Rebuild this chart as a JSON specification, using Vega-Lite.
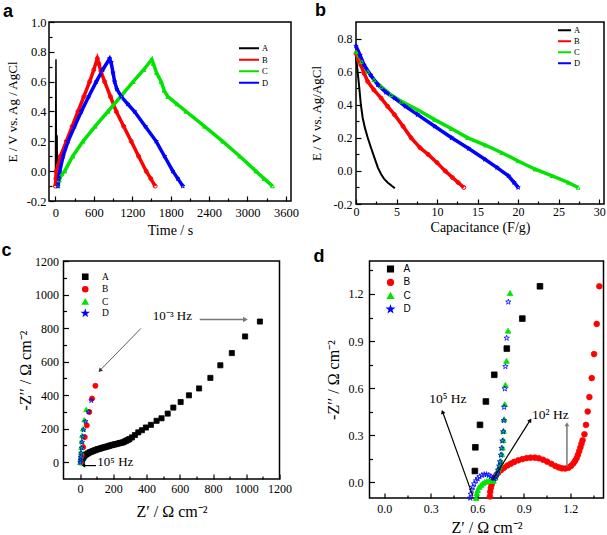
{
  "$schema": "https://vega.github.io/schema/vega-lite/v6.json",
  "padding": {"top": 0, "left": 0, "right": 0, "bottom": 0},
  "background": "white",
  "config": {
    "font": "Liberation Serif",
    "view": {"stroke": "black", "strokeWidth": 1.5},
    "axis": {"domain": false, "grid": false, "labelFont": "Liberation Serif", "labelFontSize": 12, "labelColor": "black", "titleFont": "Liberation Serif", "titleFontWeight": "normal", "titleColor": "black", "titleFontSize": 14, "tickColor": "black", "tickWidth": 1.2, "labelOverlap": false, "labelFlush": false, "labelBound": false},
    "legend": {"title": null, "labelColor": "black"}
  },
  "datasets": {
    "pa": [
      {"s":"A","x":0,"y":-0.1},{"s":"A","x":4,"y":0.3},{"s":"A","x":9,"y":0.75},{"s":"A","x":13,"y":0.3},{"s":"A","x":18,"y":0.05},{"s":"A","x":26,"y":0.24},{"s":"A","x":32,"y":-0.1},
      {"s":"B","x":0,"y":-0.1},{"s":"B","x":8,"y":-0.05},{"s":"B","x":15,"y":0.0},{"s":"B","x":78,"y":0.1},{"s":"B","x":171,"y":0.2},{"s":"B","x":262,"y":0.3},{"s":"B","x":353,"y":0.4},{"s":"B","x":444,"y":0.5},{"s":"B","x":535,"y":0.6},{"s":"B","x":600,"y":0.68},{"s":"B","x":655,"y":0.755},{"s":"B","x":680,"y":0.72},{"s":"B","x":710,"y":0.67},{"s":"B","x":769,"y":0.6},{"s":"B","x":860,"y":0.5},{"s":"B","x":951,"y":0.4},{"s":"B","x":1068,"y":0.3},{"s":"B","x":1184,"y":0.2},{"s":"B","x":1300,"y":0.1},{"s":"B","x":1418,"y":0.0},{"s":"B","x":1490,"y":-0.05},{"s":"B","x":1558,"y":-0.1},
      {"s":"C","x":40,"y":-0.1},{"s":"C","x":60,"y":-0.06},{"s":"C","x":100,"y":-0.02},{"s":"C","x":145,"y":0.0},{"s":"C","x":270,"y":0.1},{"s":"C","x":431,"y":0.2},{"s":"C","x":620,"y":0.3},{"s":"C","x":821,"y":0.4},{"s":"C","x":1018,"y":0.5},{"s":"C","x":1215,"y":0.6},{"s":"C","x":1380,"y":0.68},{"s":"C","x":1506,"y":0.75},{"s":"C","x":1530,"y":0.72},{"s":"C","x":1580,"y":0.66},{"s":"C","x":1652,"y":0.6},{"s":"C","x":1700,"y":0.54},{"s":"C","x":1756,"y":0.5},{"s":"C","x":1900,"y":0.45},{"s":"C","x":2042,"y":0.4},{"s":"C","x":2330,"y":0.3},{"s":"C","x":2613,"y":0.2},{"s":"C","x":2880,"y":0.1},{"s":"C","x":3133,"y":0.0},{"s":"C","x":3260,"y":-0.05},{"s":"C","x":3392,"y":-0.1},
      {"s":"D","x":40,"y":-0.1},{"s":"D","x":52,"y":-0.05},{"s":"D","x":68,"y":0.0},{"s":"D","x":120,"y":0.1},{"s":"D","x":197,"y":0.2},{"s":"D","x":300,"y":0.3},{"s":"D","x":405,"y":0.4},{"s":"D","x":520,"y":0.5},{"s":"D","x":639,"y":0.6},{"s":"D","x":740,"y":0.68},{"s":"D","x":847,"y":0.755},{"s":"D","x":870,"y":0.73},{"s":"D","x":900,"y":0.66},{"s":"D","x":925,"y":0.6},{"s":"D","x":960,"y":0.55},{"s":"D","x":1029,"y":0.5},{"s":"D","x":1130,"y":0.45},{"s":"D","x":1236,"y":0.4},{"s":"D","x":1405,"y":0.3},{"s":"D","x":1574,"y":0.2},{"s":"D","x":1704,"y":0.1},{"s":"D","x":1834,"y":0.0},{"s":"D","x":1912,"y":-0.05},{"s":"D","x":1990,"y":-0.1}
    ],
    "pb": [
      {"s":"A","x":0,"y":0.69},{"s":"A","x":0.2,"y":0.6},{"s":"A","x":0.41,"y":0.5},{"s":"A","x":0.6,"y":0.4},{"s":"A","x":0.83,"y":0.32},{"s":"A","x":1.1,"y":0.26},{"s":"A","x":1.45,"y":0.2},{"s":"A","x":1.85,"y":0.14},{"s":"A","x":2.27,"y":0.08},{"s":"A","x":2.7,"y":0.02},{"s":"A","x":3.1,"y":-0.02},{"s":"A","x":3.5,"y":-0.05},{"s":"A","x":3.9,"y":-0.07},{"s":"A","x":4.4,"y":-0.09},{"s":"A","x":4.8,"y":-0.105},
      {"s":"B","x":0,"y":0.71},{"s":"B","x":0.3,"y":0.67},{"s":"B","x":0.6,"y":0.64},{"s":"B","x":1.0,"y":0.59},{"s":"B","x":1.45,"y":0.54},{"s":"B","x":2.2,"y":0.49},{"s":"B","x":3.1,"y":0.44},{"s":"B","x":3.9,"y":0.39},{"s":"B","x":4.75,"y":0.34},{"s":"B","x":5.8,"y":0.27},{"s":"B","x":6.8,"y":0.2},{"s":"B","x":7.9,"y":0.14},{"s":"B","x":8.9,"y":0.1},{"s":"B","x":10,"y":0.05},{"s":"B","x":11,"y":0.0},{"s":"B","x":11.9,"y":-0.04},{"s":"B","x":12.6,"y":-0.07},{"s":"B","x":13.3,"y":-0.1},
      {"s":"C","x":0,"y":0.72},{"s":"C","x":0.7,"y":0.66},{"s":"C","x":1.45,"y":0.6},{"s":"C","x":2.2,"y":0.55},{"s":"C","x":3.1,"y":0.51},{"s":"C","x":4.3,"y":0.46},{"s":"C","x":5.6,"y":0.42},{"s":"C","x":7.6,"y":0.37},{"s":"C","x":9.7,"y":0.31},{"s":"C","x":11.8,"y":0.255},{"s":"C","x":13.8,"y":0.2},{"s":"C","x":16,"y":0.155},{"s":"C","x":18,"y":0.11},{"s":"C","x":20,"y":0.06},{"s":"C","x":22.1,"y":0.01},{"s":"C","x":24.2,"y":-0.03},{"s":"C","x":26.2,"y":-0.07},{"s":"C","x":27.4,"y":-0.1},
      {"s":"D","x":0,"y":0.755},{"s":"D","x":0.5,"y":0.7},{"s":"D","x":1.0,"y":0.64},{"s":"D","x":1.8,"y":0.58},{"s":"D","x":2.7,"y":0.52},{"s":"D","x":3.7,"y":0.475},{"s":"D","x":4.75,"y":0.44},{"s":"D","x":6.1,"y":0.39},{"s":"D","x":7.6,"y":0.34},{"s":"D","x":9.7,"y":0.27},{"s":"D","x":11.8,"y":0.2},{"s":"D","x":13.9,"y":0.135},{"s":"D","x":15.9,"y":0.07},{"s":"D","x":17.4,"y":0.02},{"s":"D","x":18.8,"y":-0.03},{"s":"D","x":19.5,"y":-0.07},{"s":"D","x":20.0,"y":-0.1}
    ],
    "pc": [
      {"s":"A","x":8,"y":0},{"s":"A","x":9,"y":6},{"s":"A","x":12,"y":16},{"s":"A","x":17,"y":25},{"s":"A","x":22,"y":33},{"s":"A","x":30,"y":41},{"s":"A","x":38,"y":47},{"s":"A","x":48,"y":53},{"s":"A","x":58,"y":59},{"s":"A","x":68,"y":63},{"s":"A","x":78,"y":67},{"s":"A","x":88,"y":71},{"s":"A","x":98,"y":75},{"s":"A","x":108,"y":78},{"s":"A","x":118,"y":81},{"s":"A","x":128,"y":84},{"s":"A","x":138,"y":87},{"s":"A","x":148,"y":90},{"s":"A","x":157,"y":92},{"s":"A","x":167,"y":95},{"s":"A","x":177,"y":98},{"s":"A","x":187,"y":101},{"s":"A","x":197,"y":104},{"s":"A","x":207,"y":106},{"s":"A","x":217,"y":108},{"s":"A","x":227,"y":111},{"s":"A","x":237,"y":114},{"s":"A","x":247,"y":116},{"s":"A","x":257,"y":118},{"s":"A","x":267,"y":123},{"s":"A","x":277,"y":128},{"s":"A","x":287,"y":133},{"s":"A","x":297,"y":138},{"s":"A","x":312,"y":148},{"s":"A","x":330,"y":162},{"s":"A","x":350,"y":178},{"s":"A","x":372,"y":191},{"s":"A","x":396,"y":207},{"s":"A","x":426,"y":223},{"s":"A","x":460,"y":247},{"s":"A","x":490,"y":262},{"s":"A","x":527,"y":290},{"s":"A","x":561,"y":326},{"s":"A","x":605,"y":359},{"s":"A","x":655,"y":399},{"s":"A","x":716,"y":440},{"s":"A","x":784,"y":503},{"s":"A","x":844,"y":578},{"s":"A","x":913,"y":651},{"s":"A","x":993,"y":750},{"s":"A","x":1082,"y":839},
      {"s":"B","x":5,"y":0},{"s":"B","x":10,"y":40},{"s":"B","x":18,"y":90},{"s":"B","x":28,"y":150},{"s":"B","x":40,"y":220},{"s":"B","x":55,"y":300},{"s":"B","x":72,"y":380},{"s":"B","x":92,"y":456},
      {"s":"C","x":0,"y":0},{"s":"C","x":2,"y":15},{"s":"C","x":3,"y":35},{"s":"C","x":5,"y":60},{"s":"C","x":7,"y":90},{"s":"C","x":9,"y":125},{"s":"C","x":12,"y":160},{"s":"C","x":17,"y":200},{"s":"C","x":25,"y":253},{"s":"C","x":37,"y":315},
      {"s":"D","x":1,"y":0},{"s":"D","x":3,"y":12},{"s":"D","x":4,"y":30},{"s":"D","x":6,"y":55},{"s":"D","x":9,"y":85},{"s":"D","x":12,"y":120},{"s":"D","x":16,"y":152},{"s":"D","x":21,"y":193},{"s":"D","x":33,"y":243},{"s":"D","x":50,"y":300},{"s":"D","x":67,"y":368}
    ],
    "pd": [
      {"s":"A","x":0.585,"y":0.072},{"s":"A","x":0.588,"y":0.223},{"s":"A","x":0.618,"y":0.366},{"s":"A","x":0.656,"y":0.515},{"s":"A","x":0.71,"y":0.685},{"s":"A","x":0.791,"y":0.852},{"s":"A","x":0.891,"y":1.043},{"s":"A","x":1.005,"y":1.249},
      {"s":"B","x":0.682,"y":-0.09},{"s":"B","x":0.684,"y":-0.06},{"s":"B","x":0.688,"y":-0.035},{"s":"B","x":0.693,"y":-0.015},{"s":"B","x":0.7,"y":0.004},{"s":"B","x":0.708,"y":0.022},{"s":"B","x":0.72,"y":0.042},{"s":"B","x":0.735,"y":0.06},{"s":"B","x":0.753,"y":0.077},{"s":"B","x":0.773,"y":0.093},{"s":"B","x":0.795,"y":0.107},{"s":"B","x":0.817,"y":0.119},{"s":"B","x":0.839,"y":0.13},{"s":"B","x":0.865,"y":0.14},{"s":"B","x":0.892,"y":0.148},{"s":"B","x":0.918,"y":0.154},{"s":"B","x":0.945,"y":0.157},{"s":"B","x":0.972,"y":0.157},{"s":"B","x":0.998,"y":0.153},{"s":"B","x":1.025,"y":0.144},{"s":"B","x":1.051,"y":0.132},{"s":"B","x":1.078,"y":0.118},{"s":"B","x":1.104,"y":0.104},{"s":"B","x":1.126,"y":0.095},{"s":"B","x":1.147,"y":0.089},{"s":"B","x":1.168,"y":0.088},{"s":"B","x":1.189,"y":0.093},{"s":"B","x":1.206,"y":0.105},{"s":"B","x":1.221,"y":0.121},{"s":"B","x":1.232,"y":0.137},{"s":"B","x":1.242,"y":0.155},{"s":"B","x":1.25,"y":0.175},{"s":"B","x":1.258,"y":0.198},{"s":"B","x":1.266,"y":0.222},{"s":"B","x":1.273,"y":0.245},{"s":"B","x":1.28,"y":0.268},{"s":"B","x":1.292,"y":0.306},{"s":"B","x":1.302,"y":0.366},{"s":"B","x":1.313,"y":0.451},{"s":"B","x":1.324,"y":0.543},{"s":"B","x":1.339,"y":0.664},{"s":"B","x":1.354,"y":0.817},{"s":"B","x":1.371,"y":1.009},{"s":"B","x":1.388,"y":1.249},
      {"s":"C","x":0.593,"y":-0.1},{"s":"C","x":0.597,"y":-0.07},{"s":"C","x":0.603,"y":-0.049},{"s":"C","x":0.612,"y":-0.03},{"s":"C","x":0.625,"y":-0.017},{"s":"C","x":0.636,"y":-0.006},{"s":"C","x":0.648,"y":0.002},{"s":"C","x":0.662,"y":0.008},{"s":"C","x":0.678,"y":0.01},{"s":"C","x":0.692,"y":0.008},{"s":"C","x":0.705,"y":0.01},{"s":"C","x":0.716,"y":0.03},{"s":"C","x":0.726,"y":0.058},{"s":"C","x":0.735,"y":0.08},{"s":"C","x":0.742,"y":0.1},{"s":"C","x":0.748,"y":0.118},{"s":"C","x":0.753,"y":0.136},{"s":"C","x":0.759,"y":0.179},{"s":"C","x":0.763,"y":0.221},{"s":"C","x":0.768,"y":0.27},{"s":"C","x":0.77,"y":0.328},{"s":"C","x":0.774,"y":0.402},{"s":"C","x":0.778,"y":0.498},{"s":"C","x":0.782,"y":0.621},{"s":"C","x":0.789,"y":0.774},{"s":"C","x":0.799,"y":0.966},{"s":"C","x":0.812,"y":1.206},
      {"s":"D","x":0.555,"y":-0.1},{"s":"D","x":0.558,"y":-0.075},{"s":"D","x":0.564,"y":-0.05},{"s":"D","x":0.571,"y":-0.03},{"s":"D","x":0.58,"y":-0.01},{"s":"D","x":0.592,"y":0.01},{"s":"D","x":0.603,"y":0.024},{"s":"D","x":0.615,"y":0.036},{"s":"D","x":0.63,"y":0.045},{"s":"D","x":0.645,"y":0.05},{"s":"D","x":0.66,"y":0.05},{"s":"D","x":0.675,"y":0.045},{"s":"D","x":0.688,"y":0.037},{"s":"D","x":0.7,"y":0.028},{"s":"D","x":0.71,"y":0.024},{"s":"D","x":0.72,"y":0.035},{"s":"D","x":0.728,"y":0.055},{"s":"D","x":0.735,"y":0.078},{"s":"D","x":0.742,"y":0.104},{"s":"D","x":0.747,"y":0.132},{"s":"D","x":0.753,"y":0.174},{"s":"D","x":0.757,"y":0.217},{"s":"D","x":0.763,"y":0.264},{"s":"D","x":0.768,"y":0.323},{"s":"D","x":0.772,"y":0.394},{"s":"D","x":0.774,"y":0.479},{"s":"D","x":0.778,"y":0.596},{"s":"D","x":0.782,"y":0.738},{"s":"D","x":0.79,"y":0.919},{"s":"D","x":0.801,"y":1.149}
    ]
  },
  "spacing": 1,
  "center": true,
  "resolve": {"scale": {"color": "independent", "shape": "independent", "fill": "independent", "stroke": "independent"}},
  "vconcat": [
    {
      "spacing": 9,
      "resolve": {"scale": {"color": "independent", "shape": "independent", "fill": "independent", "stroke": "independent"}},
      "hconcat": [
        {
          "width": 242, "height": 179,
          "title": {"text": "a", "anchor": "start", "frame": "group", "dx": -46, "offset": -18.75, "baseline": "alphabetic", "font": "Liberation Sans", "fontSize": 18, "fontWeight": "bold", "color": "black"},
          "data": {"name": "pa"},
          "encoding": {
            "x": {"field": "x", "type": "quantitative", "title": "Time / s", "scale": {"domain": [-100, 3680], "nice": false, "zero": false},
              "axis": {"values": [0,300,600,900,1200,1500,1800,2100,2400,2700,3000,3300,3600], "format": "d", "labelExpr": "datum.value % 600 === 0 ? datum.label : ''", "tickSize": {"condition": {"test": "datum.value % 600 !== 0", "value": -3}, "value": -5}, "labelPadding": 10, "labelFontSize": 12.5, "titlePadding": 3}},
            "y": {"field": "y", "type": "quantitative", "title": "E / V vs. Ag / AgCl", "scale": {"domain": [-0.2, 1.0], "nice": false, "zero": false},
              "axis": {"values": [-0.2,-0.1,0,0.1,0.2,0.3,0.4,0.5,0.6,0.7,0.8,0.9,1.0], "format": ".1f", "labelExpr": "abs(round(datum.value*10)) % 2 === 0 ? replace(datum.label, '−', '-') : ''", "tickSize": {"condition": {"test": "abs(round(datum.value*10)) % 2 === 1", "value": -3}, "value": -5}, "labelPadding": 8, "labelFontSize": 12.5, "titlePadding": 7, "titleFontSize": 13}}
          },
          "layer": [
            {"transform": [{"filter": "datum.s === 'A'"}], "mark": {"type": "line", "strokeWidth": 1.5},
             "encoding": {"color": {"field": "s", "type": "nominal", "scale": {"domain": ["A","B","C","D"], "range": ["#000000","#ff0000","#00e400","#0000ff"]},
               "legend": {"orient": "none", "legendX": 189, "legendY": 22, "symbolType": "stroke", "symbolSize": 400, "symbolStrokeWidth": 2, "clipHeight": 8.5, "labelFont": "Liberation Serif", "labelFontSize": 8.5, "rowPadding": 2.5, "labelOffset": 2}}}},
            {"transform": [{"filter": "datum.s !== 'A'"}], "mark": {"type": "line", "strokeWidth": 3.5},
             "encoding": {"color": {"field": "s", "type": "nominal", "scale": {"domain": ["A","B","C","D"], "range": ["#000000","#ff0000","#00e400","#0000ff"]}}}},
            {"transform": [{"filter": "datum.s === 'B'"}], "mark": {"type": "point", "shape": "circle", "filled": false, "size": 16, "strokeWidth": 1, "opacity": 1},
             "encoding": {"color": {"field": "s", "type": "nominal", "scale": {"domain": ["A","B","C","D"], "range": ["#000000","#ff0000","#00e400","#0000ff"]}}}},
            {"transform": [{"filter": "datum.s === 'C'"}], "mark": {"type": "point", "shape": "triangle-up", "filled": false, "size": 16, "strokeWidth": 1, "opacity": 1},
             "encoding": {"color": {"field": "s", "type": "nominal", "scale": {"domain": ["A","B","C","D"], "range": ["#000000","#ff0000","#00e400","#0000ff"]}}}},
            {"transform": [{"filter": "datum.s === 'D'"}], "mark": {"type": "point", "shape": "M0,-1L0.225,-0.309L0.951,-0.309L0.363,0.118L0.588,0.809L0,0.382L-0.588,0.809L-0.363,0.118L-0.951,-0.309L-0.225,-0.309Z", "filled": false, "size": 20, "strokeWidth": 1, "opacity": 1},
             "encoding": {"color": {"field": "s", "type": "nominal", "scale": {"domain": ["A","B","C","D"], "range": ["#000000","#ff0000","#00e400","#0000ff"]}}}}
          ]
        },
        {
          "width": 248, "height": 182,
          "title": {"text": "b", "anchor": "start", "frame": "group", "dx": -41, "offset": -11.5, "baseline": "alphabetic", "font": "Liberation Sans", "fontSize": 18, "fontWeight": "bold", "color": "black"},
          "data": {"name": "pb"},
          "encoding": {
            "x": {"field": "x", "type": "quantitative", "title": "Capacitance (F/g)", "scale": {"domain": [0, 30.6], "nice": false, "zero": false},
              "axis": {"values": [0,2.5,5,7.5,10,12.5,15,17.5,20,22.5,25,27.5,30], "format": "d", "labelExpr": "datum.value % 5 === 0 ? datum.label : ''", "tickSize": {"condition": {"test": "datum.value % 5 !== 0", "value": -3}, "value": -5}, "labelPadding": 7, "titlePadding": 1}},
            "y": {"field": "y", "type": "quantitative", "title": "E / V vs. Ag/AgCl", "scale": {"domain": [-0.2, 0.9], "nice": false, "zero": false},
              "axis": {"values": [-0.2,-0.1,0,0.1,0.2,0.3,0.4,0.5,0.6,0.7,0.8], "format": ".1f", "labelExpr": "abs(round(datum.value*10)) % 2 === 0 ? replace(datum.label, '−', '-') : ''", "tickSize": {"condition": {"test": "abs(round(datum.value*10)) % 2 === 1", "value": -3}, "value": -5}, "labelPadding": 9, "titlePadding": 10, "titleFontSize": 13}}
          },
          "layer": [
            {"transform": [{"filter": "datum.s === 'A'"}], "mark": {"type": "line", "strokeWidth": 2},
             "encoding": {"color": {"field": "s", "type": "nominal", "scale": {"domain": ["A","B","C","D"], "range": ["#000000","#ff0000","#00e400","#0000ff"]},
               "legend": {"orient": "none", "legendX": 201, "legendY": 4, "symbolType": "stroke", "symbolSize": 169, "symbolStrokeWidth": 2, "clipHeight": 8.5, "labelFont": "Liberation Serif", "labelFontSize": 8.5, "rowPadding": 2, "labelOffset": 2}}}},
            {"transform": [{"filter": "datum.s !== 'A'"}], "mark": {"type": "line", "strokeWidth": 3.5},
             "encoding": {"color": {"field": "s", "type": "nominal", "scale": {"domain": ["A","B","C","D"], "range": ["#000000","#ff0000","#00e400","#0000ff"]}}}},
            {"transform": [{"filter": "datum.s === 'B'"}], "mark": {"type": "point", "shape": "circle", "filled": false, "size": 16, "strokeWidth": 1, "opacity": 1},
             "encoding": {"color": {"field": "s", "type": "nominal", "scale": {"domain": ["A","B","C","D"], "range": ["#000000","#ff0000","#00e400","#0000ff"]}}}},
            {"transform": [{"filter": "datum.s === 'C'"}], "mark": {"type": "point", "shape": "triangle-up", "filled": false, "size": 16, "strokeWidth": 1, "opacity": 1},
             "encoding": {"color": {"field": "s", "type": "nominal", "scale": {"domain": ["A","B","C","D"], "range": ["#000000","#ff0000","#00e400","#0000ff"]}}}},
            {"transform": [{"filter": "datum.s === 'D'"}], "mark": {"type": "point", "shape": "M0,-1L0.225,-0.309L0.951,-0.309L0.363,0.118L0.588,0.809L0,0.382L-0.588,0.809L-0.363,0.118L-0.951,-0.309L-0.225,-0.309Z", "filled": false, "size": 20, "strokeWidth": 1, "opacity": 1},
             "encoding": {"color": {"field": "s", "type": "nominal", "scale": {"domain": ["A","B","C","D"], "range": ["#000000","#ff0000","#00e400","#0000ff"]}}}}
          ]
        },
        {"data": {"values": []}, "mark": {"type": "point", "opacity": 0}, "width": 4, "height": 1, "view": {"stroke": null}}
      ]
    },
    {
      "spacing": 20,
      "resolve": {"scale": {"color": "independent", "shape": "independent", "fill": "independent", "stroke": "independent"}},
      "hconcat": [
        {
          "width": 216, "height": 218,
          "title": {"text": "c", "anchor": "start", "frame": "group", "dx": -62, "offset": -18.5, "baseline": "alphabetic", "font": "Liberation Sans", "fontSize": 18, "fontWeight": "bold", "color": "black"},
          "data": {"name": "pc"},
          "encoding": {
            "x": {"field": "x", "type": "quantitative", "title": "Z′ / Ω cm⁻²", "scale": {"domain": [-100, 1200], "nice": false, "zero": false},
              "axis": {"values": [0,100,200,300,400,500,600,700,800,900,1000,1100,1200], "format": "d", "labelExpr": "datum.value % 200 === 0 ? datum.label : ''", "tickSize": {"condition": {"test": "datum.value % 200 !== 0", "value": -3}, "value": -5}, "labelPadding": 9.5, "titlePadding": 7, "titleFontSize": 16}},
            "y": {"field": "y", "type": "quantitative", "title": "-Z′′ / Ω cm⁻²", "scale": {"domain": [-100, 1200], "nice": false, "zero": false},
              "axis": {"values": [0,100,200,300,400,500,600,700,800,900,1000,1100,1200], "format": "d", "labelExpr": "datum.value % 200 === 0 ? datum.label : ''", "tickSize": {"condition": {"test": "datum.value % 200 !== 0", "value": -3}, "value": -5}, "labelPadding": 10, "titlePadding": 1, "titleFontSize": 16}}
          },
          "layer": [
            {"mark": {"type": "point", "filled": true, "size": 26, "strokeWidth": 0.8, "opacity": 1},
             "encoding": {
               "fill": {"field": "s", "type": "nominal", "scale": {"domain": ["A","B","C","D"], "range": ["#000000","#ff0000","#00e400","transparent"]}, "legend": {"orient": "none", "legendX": 17, "legendY": 11, "symbolSize": 26, "labelFont": "Liberation Serif", "labelFontSize": 9.5, "rowPadding": 0.5, "labelOffset": 12}},
               "stroke": {"field": "s", "type": "nominal", "scale": {"domain": ["A","B","C","D"], "range": ["#000000","#ff0000","#00e400","#0000ff"]}, "legend": {"orient": "none", "legendX": 17, "legendY": 11, "symbolSize": 26, "labelFont": "Liberation Serif", "labelFontSize": 9.5, "rowPadding": 0.5, "labelOffset": 12}},
               "shape": {"field": "s", "type": "nominal", "scale": {"domain": ["A","B","C","D"], "range": ["square","circle","triangle-up","M0,-1L0.225,-0.309L0.951,-0.309L0.363,0.118L0.588,0.809L0,0.382L-0.588,0.809L-0.363,0.118L-0.951,-0.309L-0.225,-0.309Z"]}, "legend": {"orient": "none", "legendX": 17, "legendY": 11, "symbolSize": 26, "labelFont": "Liberation Serif", "labelFontSize": 9.5, "rowPadding": 0.5, "labelOffset": 12}}
             }},
            {"data": {"values": [{"x": 720, "y": 851, "x2": 990, "y2": 851}]}, "mark": {"type": "rule", "color": "#777777", "strokeWidth": 1.5},
             "encoding": {"x2": {"field": "x2"}, "y2": {"field": "y2"}}},
            {"data": {"values": [{"x": 995, "y": 851}]}, "mark": {"type": "point", "shape": "triangle-right", "filled": true, "color": "#777777", "size": 30, "opacity": 1}, "encoding": {}},
            {"data": {"values": [{"x": 366, "y": 798, "x2": 125, "y2": 553}]}, "mark": {"type": "rule", "color": "#333333", "strokeWidth": 0.8},
             "encoding": {"x2": {"field": "x2"}, "y2": {"field": "y2"}}},
            {"data": {"values": [{"x": 122, "y": 550}]}, "mark": {"type": "point", "shape": "triangle", "angle": 224, "filled": true, "color": "#333333", "size": 22, "opacity": 1}, "encoding": {}},
            {"data": {"values": [{"x": 96, "y": -20, "x2": 22, "y2": -20}]}, "mark": {"type": "rule", "color": "black", "strokeWidth": 1.2},
             "encoding": {"x2": {"field": "x2"}, "y2": {"field": "y2"}}},
            {"data": {"values": [{"x": 20, "y": -20}]}, "mark": {"type": "point", "shape": "triangle-left", "filled": true, "color": "black", "size": 18, "opacity": 1}, "encoding": {}},
            {"data": {"values": [{"x": 555, "y": 871, "label": "10⁻³ Hz"}, {"x": 212, "y": 3, "label": "10⁵ Hz"}]},
             "mark": {"type": "text", "font": "Liberation Serif", "fontSize": 13, "align": "center", "baseline": "middle", "color": "black"},
             "encoding": {"text": {"field": "label"}}}
          ]
        },
        {
          "width": 234, "height": 237,
          "title": {"text": "d", "anchor": "start", "frame": "group", "dx": -56, "offset": -19, "baseline": "alphabetic", "font": "Liberation Sans", "fontSize": 18, "fontWeight": "bold", "color": "black"},
          "data": {"name": "pd"},
          "encoding": {
            "x": {"field": "x", "type": "quantitative", "title": "Z′ / Ω cm⁻²", "scale": {"domain": [-0.095, 1.415], "nice": false, "zero": false},
              "axis": {"values": [0,0.15,0.3,0.45,0.6,0.75,0.9,1.05,1.2,1.35], "format": ".1f", "labelExpr": "abs(round(datum.value*100)) % 30 === 0 ? datum.label : ''", "tickSize": {"condition": {"test": "abs(round(datum.value*100)) % 30 !== 0", "value": -3}, "value": -5}, "labelPadding": 10.5, "labelFontSize": 12, "titlePadding": 3, "titleFontSize": 16}},
            "y": {"field": "y", "type": "quantitative", "title": "-Z′′ / Ω cm⁻²", "scale": {"domain": [-0.1, 1.41], "nice": false, "zero": false},
              "axis": {"values": [0,0.15,0.3,0.45,0.6,0.75,0.9,1.05,1.2,1.35], "format": ".1f", "labelExpr": "abs(round(datum.value*100)) % 30 === 0 ? datum.label : ''", "tickSize": {"condition": {"test": "abs(round(datum.value*100)) % 30 !== 0", "value": -3}, "value": -5}, "labelPadding": 11.5, "labelFontSize": 12, "titlePadding": 7, "titleFontSize": 16}}
          },
          "layer": [
            {"mark": {"type": "point", "filled": true, "size": 32, "strokeWidth": 0.8, "opacity": 1},
             "encoding": {
               "fill": {"field": "s", "type": "nominal", "scale": {"domain": ["A","B","C","D"], "range": ["#000000","#ff0000","#00e400","transparent"]}, "legend": {"orient": "none", "legendX": 16, "legendY": 3, "symbolSize": 32, "labelFont": "Liberation Sans", "labelFontSize": 10, "rowPadding": 1.4, "labelOffset": 8}},
               "stroke": {"field": "s", "type": "nominal", "scale": {"domain": ["A","B","C","D"], "range": ["#000000","#ff0000","#00e400","#0000ff"]}, "legend": {"orient": "none", "legendX": 16, "legendY": 3, "symbolSize": 32, "labelFont": "Liberation Sans", "labelFontSize": 10, "rowPadding": 1.4, "labelOffset": 8}},
               "shape": {"field": "s", "type": "nominal", "scale": {"domain": ["A","B","C","D"], "range": ["square","circle","triangle-up","M0,-1L0.225,-0.309L0.951,-0.309L0.363,0.118L0.588,0.809L0,0.382L-0.588,0.809L-0.363,0.118L-0.951,-0.309L-0.225,-0.309Z"]}, "legend": {"orient": "none", "legendX": 16, "legendY": 3, "symbolSize": 32, "labelFont": "Liberation Sans", "labelFontSize": 10, "rowPadding": 1.4, "labelOffset": 8}}
             }},
            {"data": {"values": [{"x": 0.571, "y": -0.085, "x2": 0.38, "y2": 0.44}]}, "mark": {"type": "rule", "color": "black", "strokeWidth": 1.2},
             "encoding": {"x2": {"field": "x2"}, "y2": {"field": "y2"}}},
            {"data": {"values": [{"x": 0.378, "y": 0.445}]}, "mark": {"type": "point", "shape": "triangle", "angle": 340, "filled": true, "color": "black", "size": 22, "opacity": 1}, "encoding": {}},
            {"data": {"values": [{"x": 0.699, "y": 0.015, "x2": 0.938, "y2": 0.39}]}, "mark": {"type": "rule", "color": "black", "strokeWidth": 1.2},
             "encoding": {"x2": {"field": "x2"}, "y2": {"field": "y2"}}},
            {"data": {"values": [{"x": 0.94, "y": 0.392}]}, "mark": {"type": "point", "shape": "triangle", "angle": 33, "filled": true, "color": "black", "size": 22, "opacity": 1}, "encoding": {}},
            {"data": {"values": [{"x": 1.179, "y": 0.1, "x2": 1.179, "y2": 0.36}]}, "mark": {"type": "rule", "color": "#777777", "strokeWidth": 1.5},
             "encoding": {"x2": {"field": "x2"}, "y2": {"field": "y2"}}},
            {"data": {"values": [{"x": 1.179, "y": 0.365}]}, "mark": {"type": "point", "shape": "triangle", "angle": 0, "filled": true, "color": "#777777", "size": 22, "opacity": 1}, "encoding": {}},
            {"data": {"values": [{"x": 0.411, "y": 0.532, "label": "10⁵ Hz"}, {"x": 1.072, "y": 0.426, "label": "10² Hz"}]},
             "mark": {"type": "text", "font": "Liberation Serif", "fontSize": 13.5, "align": "center", "baseline": "middle", "color": "black"},
             "encoding": {"text": {"field": "label"}}}
          ]
        }
      ]
    }
  ]
}
